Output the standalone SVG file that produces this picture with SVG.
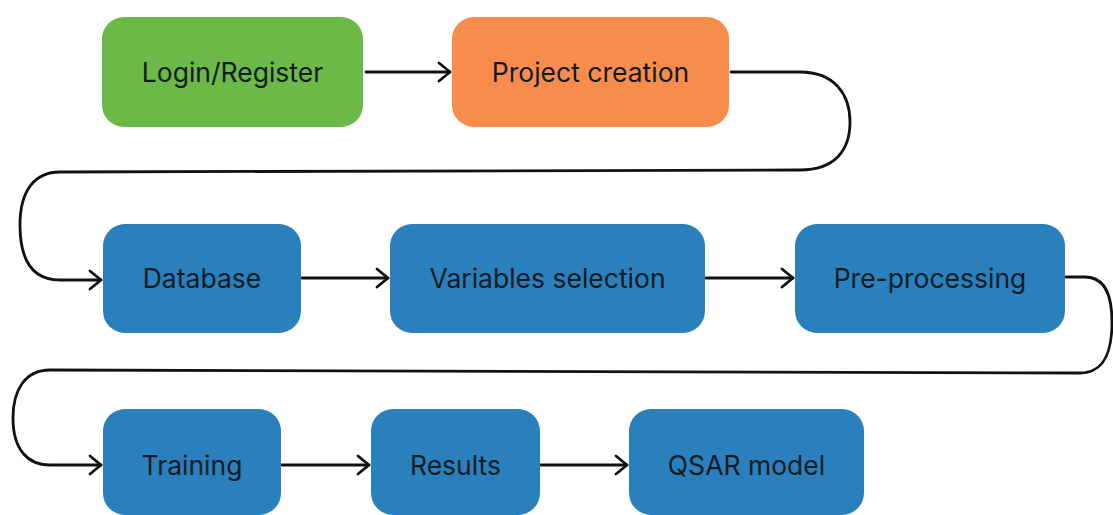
<svg xmlns="http://www.w3.org/2000/svg" width="1113" height="515" viewBox="0 0 1113 515">
  <style>
    .box { stroke: none; }
    .green { fill: #6cb948; }
    .orange { fill: #f88c4d; }
    .blue { fill: #2a80bd; }
    .label { font-family: Inter, "Liberation Sans", sans-serif; font-size: 26.5px; fill: #141a22; text-anchor: middle; dominant-baseline: central; }
    .link { fill: none; stroke: #111; stroke-width: 2.8; stroke-linecap: round; stroke-linejoin: round; }
  </style>
  <defs>
    <marker id="chevron" viewBox="0 0 16 22" refX="13" refY="11" markerWidth="16" markerHeight="22" markerUnits="userSpaceOnUse" orient="auto">
      <path d="M2 2 L13 11 L2 20" fill="none" stroke="#111" stroke-width="2.8" stroke-linecap="round" stroke-linejoin="round"/>
    </marker>
  </defs>

  <rect width="1113" height="515" fill="#ffffff"/>

  <!-- connectors -->
  <g id="connectors">
    <path class="link" marker-end="url(#chevron)" d="M366 72 L450 72"/>
    <path class="link" marker-end="url(#chevron)" d="M731 72 L800 72 C835 72 850 95 850 122 C850 150 835 170 800 170 L60 172 C35 172 20 190 20 225 C20 260 32 280 60 280 L101 280"/>
    <path class="link" marker-end="url(#chevron)" d="M302 278 L388 278"/>
    <path class="link" marker-end="url(#chevron)" d="M706 278 L793 278"/>
    <path class="link" marker-end="url(#chevron)" d="M1066 277 L1085 277 C1103 277 1112 292 1112 322 C1112 356 1102 373 1080 373 L50 370 C25 370 13 390 13 418 C13 450 28 465 50 465 L101 465"/>
    <path class="link" marker-end="url(#chevron)" d="M282 465 L369 465"/>
    <path class="link" marker-end="url(#chevron)" d="M541 465 L627 465"/>
  </g>

  <!-- nodes -->
  <g id="login-register">
    <rect class="box green" x="102" y="17" width="261" height="110" rx="22"/>
    <text class="label" x="232.5" y="72">Login/Register</text>
  </g>
  <g id="project-creation">
    <rect class="box orange" x="452" y="17" width="277" height="110" rx="22"/>
    <text class="label" x="590.5" y="72">Project creation</text>
  </g>
  <g id="database">
    <rect class="box blue" x="103" y="224" width="198" height="109" rx="22"/>
    <text class="label" x="202" y="278">Database</text>
  </g>
  <g id="variables-selection">
    <rect class="box blue" x="390" y="224" width="315" height="109" rx="22"/>
    <text class="label" x="547.5" y="278">Variables selection</text>
  </g>
  <g id="pre-processing">
    <rect class="box blue" x="795" y="224" width="270" height="109" rx="22"/>
    <text class="label" x="930" y="278">Pre-processing</text>
  </g>
  <g id="training">
    <rect class="box blue" x="103" y="409" width="178" height="106" rx="22"/>
    <text class="label" x="192" y="465">Training</text>
  </g>
  <g id="results">
    <rect class="box blue" x="371" y="409" width="169" height="106" rx="22"/>
    <text class="label" x="455.5" y="465">Results</text>
  </g>
  <g id="qsar-model">
    <rect class="box blue" x="629" y="409" width="235" height="106" rx="22"/>
    <text class="label" x="746.5" y="465">QSAR model</text>
  </g>
</svg>
